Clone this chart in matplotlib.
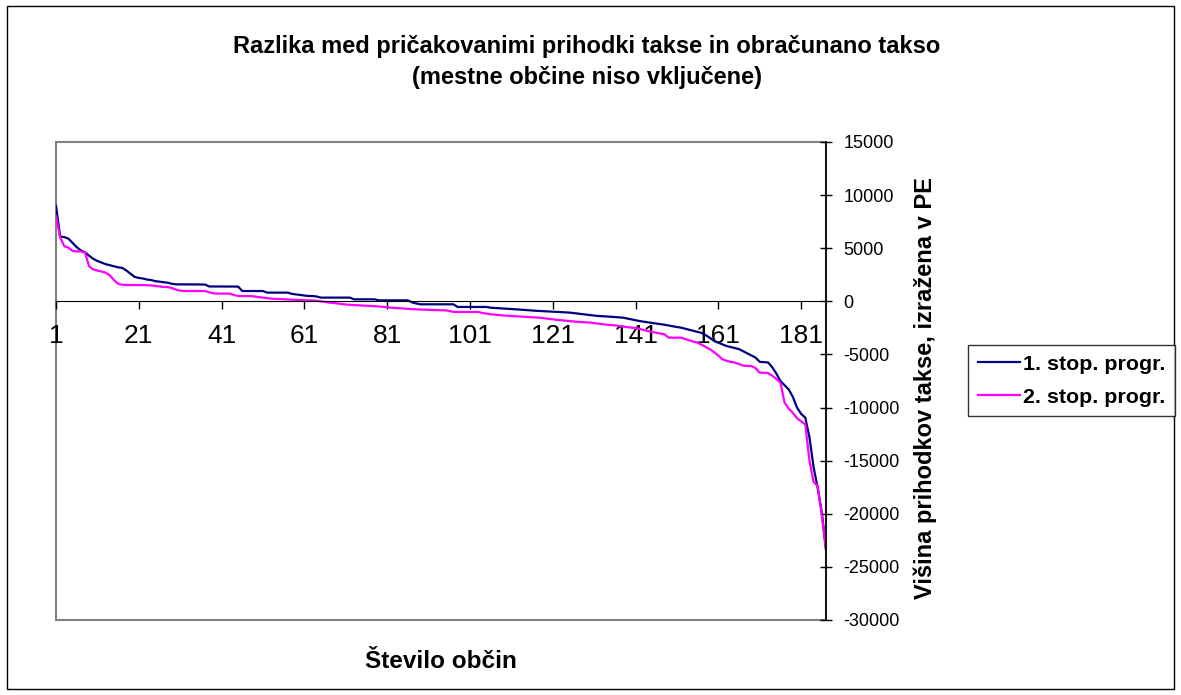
import matplotlib.pyplot as plt
from matplotlib.patches import Rectangle
from matplotlib.ticker import FuncFormatter

plt.rcParams['font.family'] = ['Liberation Sans', 'DejaVu Sans']

# values, one per obcina (sorted)
stop1 = [
    9000, 6100, 6050, 5900, 5500, 5100, 4800, 4600, 4300, 4000,
    3800, 3650, 3500, 3400, 3300, 3200, 3150, 2900, 2600, 2300,
    2200, 2150, 2050, 2000, 1900, 1850, 1800, 1750, 1650, 1600,
    1600, 1600, 1600, 1590, 1590, 1580, 1580, 1400, 1400, 1390,
    1390, 1390, 1390, 1390, 1390, 970, 970, 970, 970, 970,
    970, 820, 820, 820, 820, 820, 820, 700, 650, 600,
    550, 500, 500, 450, 350, 350, 350, 350, 350, 350,
    350, 350, 190, 190, 190, 190, 190, 190, 95, 95,
    95, 95, 95, 95, 95, 95, -100, -200, -280, -280,
    -280, -280, -280, -280, -280, -280, -280, -530, -530, -530,
    -530, -530, -530, -530, -530, -600, -620, -650, -680, -700,
    -720, -750, -780, -800, -830, -860, -890, -910, -930, -950,
    -970, -990, -1010, -1040, -1060, -1100, -1150, -1200, -1250, -1300,
    -1340, -1380, -1400, -1420, -1450, -1480, -1510, -1540, -1620, -1700,
    -1780, -1860, -1920, -1980, -2040, -2100, -2150, -2200, -2280, -2350,
    -2420, -2480, -2580, -2680, -2780, -2880, -2980, -3200, -3450, -3740,
    -3900, -4050, -4210, -4300, -4400, -4500, -4700, -4900, -5100, -5300,
    -5700, -5720, -5750, -6200, -6800, -7500, -7900, -8300, -9000, -10000,
    -10600, -10950, -12800, -15600, -17600, -19900, -23400,
]
stop2 = [
    8000, 6000, 5200, 5050, 4750, 4700, 4700, 4600, 3300, 3000,
    2900, 2800, 2700, 2450, 2000, 1650, 1560, 1540, 1540, 1540,
    1530, 1530, 1520, 1500, 1450, 1400, 1350, 1350, 1250, 1100,
    1000, 970, 970, 970, 970, 970, 970, 850, 750, 730,
    730, 730, 730, 600, 500, 500, 500, 500, 450, 400,
    350, 300, 250, 230, 210, 200, 180, 160, 140, 120,
    100, 95, 90, 50, 0, -60, -120, -150, -200, -250,
    -300, -330, -350, -370, -390, -410, -430, -450, -480, -520,
    -560, -600, -620, -650, -680, -700, -730, -750, -770, -790,
    -800, -820, -830, -840, -850, -900, -1000, -1000, -1000, -1000,
    -1000, -1000, -1000, -1100, -1150, -1220, -1260, -1300, -1330, -1360,
    -1380, -1400, -1420, -1450, -1480, -1500, -1520, -1540, -1600, -1650,
    -1700, -1740, -1780, -1820, -1860, -1900, -1930, -1950, -1980, -2000,
    -2050, -2100, -2150, -2200, -2230, -2260, -2320, -2380, -2430, -2480,
    -2500, -2600, -2700, -2800, -2880, -2960, -3040, -3110, -3420, -3420,
    -3420, -3420, -3550, -3680, -3800, -3890, -4100, -4300, -4520, -4800,
    -5100, -5460, -5600, -5700, -5770, -5900, -6050, -6090, -6090, -6300,
    -6720, -6720, -6750, -7000, -7300, -7660, -9540, -10100, -10500, -11000,
    -11300, -11590, -15000, -17000, -17400, -20200, -23400,
]
obcine = list(range(1, len(stop1) + 1))
x_ticks = [1, 21, 41, 61, 81, 101, 121, 141, 161, 181]
y_ticks = [15000, 10000, 5000, 0, -5000, -10000, -15000, -20000, -25000, -30000]
labels = ['1. stop. progr.', '2. stop. progr.']

fig = plt.figure(figsize=(11.81, 6.95), dpi=100)
ax = fig.add_axes([56 / 1181, 1 - 620 / 695, 770 / 1181, 478 / 695])

ax.plot(obcine, stop1, color='#000080', lw=1.6, label=labels[0])
ax.plot(obcine, stop2, color='#ff00ff', lw=1.6, label=labels[1])

ax.set_xlim(1, len(stop1))
ax.set_ylim(-30000, 15000)

# plot area border in grey, value axis on the right in black
for s in ['left', 'top']:
    ax.spines[s].set_visible(False)
ax.add_patch(Rectangle((0, 0), 1, 1, transform=ax.transAxes, fill=False,
                       edgecolor='#808080', lw=1.5, clip_on=False, zorder=0))
ax.spines['bottom'].set_position(('data', 0))
ax.spines['bottom'].set_color('black')
ax.spines['right'].set_color('black')
ax.spines['right'].set_linewidth(1.2)

ax.set_xticks(x_ticks)
ax.tick_params(axis='x', direction='out', length=6, width=1, labelsize=19, pad=10)
ax.yaxis.tick_right()
ax.set_yticks(y_ticks)
ax.yaxis.set_major_formatter(FuncFormatter(lambda v, p: '%d' % v))
ax.tick_params(axis='y', direction='inout', length=9, width=1, labelsize=13, pad=8)

fig.text(587 / 1181, 1 - 62 / 695,
         'Razlika med pričakovanimi prihodki takse in obračunano takso\n(mestne občine niso vključene)',
         ha='center', va='center', fontsize=17, fontweight='bold', linespacing=1.4)
fig.text(441 / 1181, 1 - 662 / 695, 'Število občin', ha='center', va='center',
         fontsize=17.5, fontweight='bold')
fig.text(925 / 1181, 1 - 388 / 695, 'Višina prihodkov takse, izražena v PE',
         ha='center', va='center', rotation=90, fontsize=17, fontweight='bold')

leg = fig.legend(loc='upper left', bbox_to_anchor=(968 / 1181, 1 - 345 / 695),
                 borderaxespad=0, fancybox=False, edgecolor='black',
                 prop={'size': 15.4, 'weight': 'bold'}, handlelength=2.0,
                 handletextpad=0.1, borderpad=0.45, labelspacing=0.65)
leg.get_frame().set_linewidth(1.0)

fig.add_artist(Rectangle((0.006, 0.008), 0.988, 0.984, transform=fig.transFigure,
                         fill=False, edgecolor='black', lw=1))

fig.savefig('out.png', dpi=100)
